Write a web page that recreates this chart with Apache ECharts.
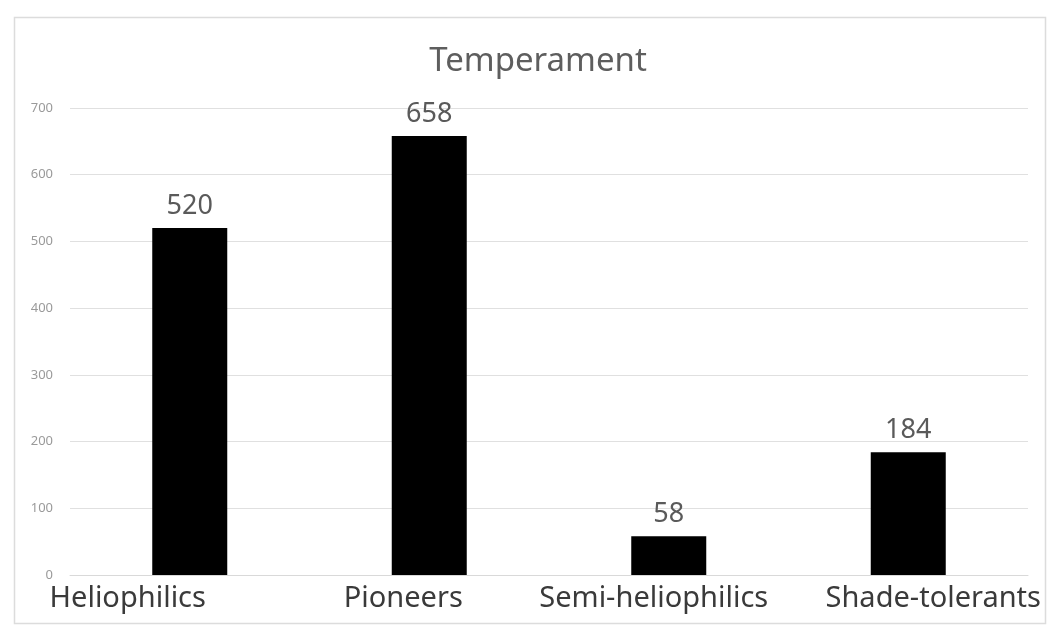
<!DOCTYPE html>
<html>
<head>
<meta charset="utf-8">
<script src="https://cdn.jsdelivr.net/npm/echarts@6/dist/echarts.min.js"></script>
<style>
  html, body { margin: 0; padding: 0; background: #ffffff; }
  #chart { width: 1051px; height: 631px; }
</style>
</head>
<body>
<div id="chart"></div>
<script>
// Temperament groups and their counts
const categories = ['Heliophilics', 'Pioneers', 'Semi-heliophilics', 'Shade-tolerants'];
const counts = [520, 658, 58, 184];
const yTicks = [0, 100, 200, 300, 400, 500, 600, 700];

// Horizontal nudge of each category label relative to its bar (px, + = right)
const labelNudge = [-62, -26, -15, 25];

const FONT = '"Noto Sans", "Open Sans", sans-serif';

const rich = {};
labelNudge.forEach((d, i) => {
  rich['c' + i] = {
    fontFamily: FONT,
    fontSize: 29,
    color: '#3a3a3a',
    padding: d < 0 ? [0, -2 * d, 0, 0] : [0, 0, 0, 2 * d]
  };
});

const chart = echarts.init(document.getElementById('chart'), null, { renderer: 'canvas' });

chart.setOption({
  backgroundColor: '#ffffff',
  animation: false,
  title: {
    text: 'Temperament',
    left: 533,
    textAlign: 'center',
    top: 40,
    textStyle: { fontFamily: FONT, fontSize: 33, fontWeight: 'normal', color: '#5e5e5e' }
  },
  graphic: [{
    type: 'rect',
    shape: { x: 14.5, y: 17.5, width: 1031, height: 606 },
    style: { fill: 'none', stroke: '#dcdcdc', lineWidth: 1.5 },
    silent: true,
    z: -1
  }],
  grid: { left: 70, right: 23, top: 108, bottom: 56, containLabel: false },
  xAxis: {
    type: 'category',
    data: categories,
    axisLine: { show: true, lineStyle: { color: '#d9d9d9', width: 1 } },
    axisTick: { show: false },
    axisLabel: {
      interval: 0,
      hideOverlap: false,
      margin: 9,
      formatter: (v, i) => '{c' + i + '|' + v + '}',
      rich: rich
    }
  },
  yAxis: {
    type: 'value',
    min: yTicks[0],
    max: yTicks[yTicks.length - 1],
    interval: yTicks[1] - yTicks[0],
    axisLine: { show: false },
    axisTick: { show: false },
    splitLine: { lineStyle: { color: '#e0e0e0', width: 1 } },
    axisLabel: {
      margin: 17,
      fontFamily: FONT,
      fontSize: 13,
      color: '#9a9a9a'
    }
  },
  series: [{
    type: 'bar',
    data: counts,
    barWidth: 75,
    itemStyle: { color: '#000000' },
    label: {
      show: true,
      position: 'top',
      distance: 8,
      fontFamily: FONT,
      fontSize: 27,
      color: '#5a5a5a'
    }
  }]
});
</script>
</body>
</html>
